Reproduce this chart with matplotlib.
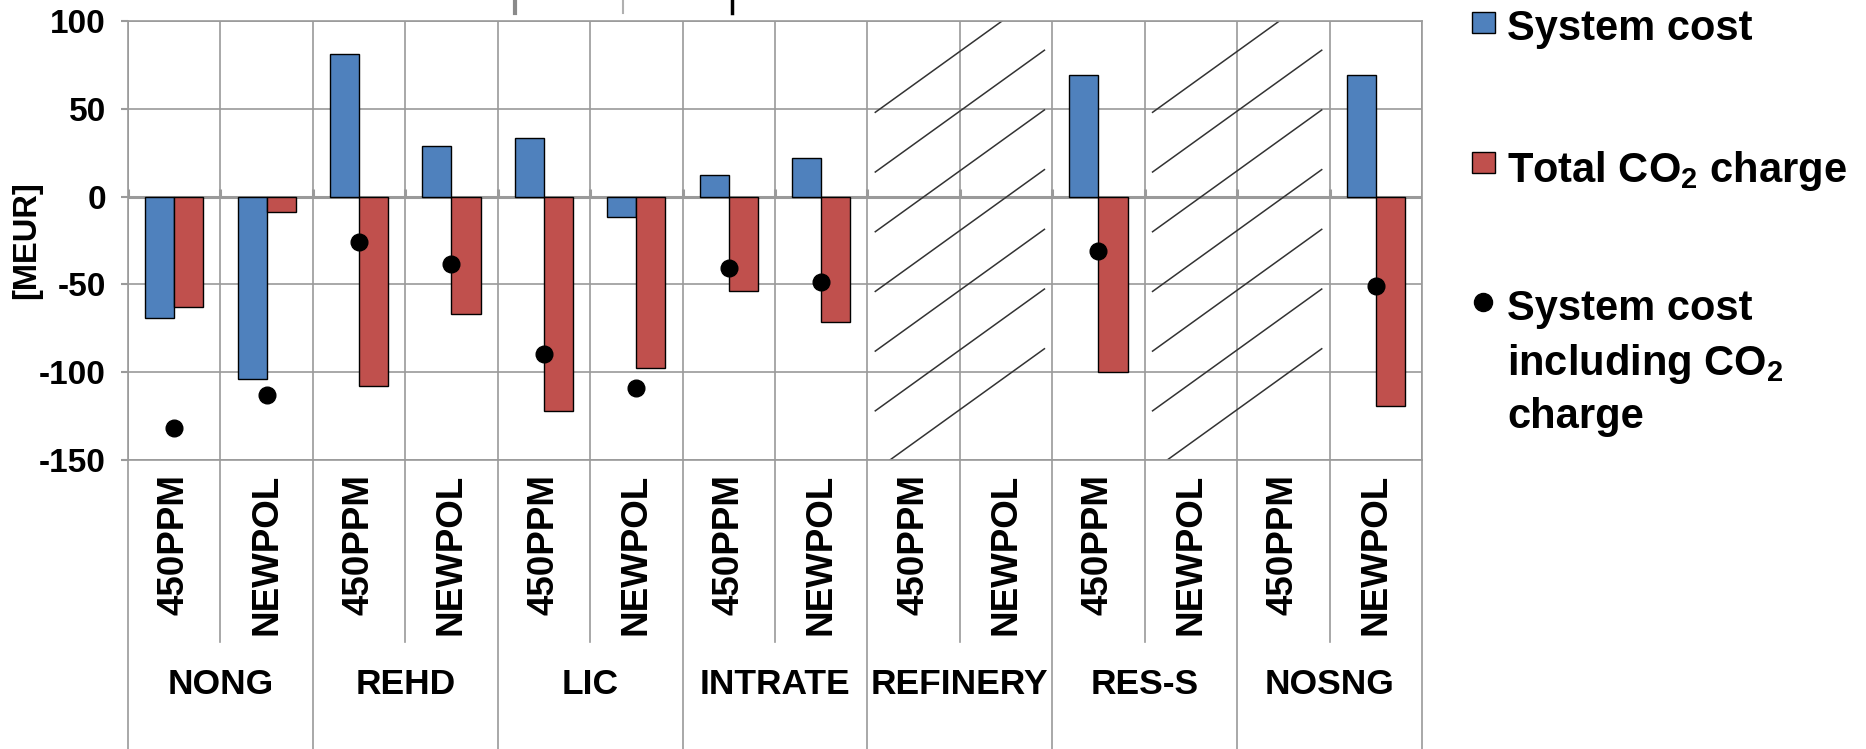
import numpy as np
import matplotlib
matplotlib.use('Agg')
import matplotlib.pyplot as plt
from matplotlib.lines import Line2D
from matplotlib.patches import Rectangle
from matplotlib.transforms import blended_transform_factory

# policy groups, each run under two scenarios
groups = ['NONG', 'REHD', 'LIC', 'INTRATE', 'REFINERY', 'RES-S', 'NOSNG']
scenarios = ['450PPM', 'NEWPOL']

nan = np.nan
# MEUR per column (group x scenario); nan = no result for that case
system_cost = [-69.1, -103.8, 81.3, 28.6, 33.3, -11.6, 12.4, 22.1,
               nan, nan, 69.0, nan, nan, 69.0]
co2_charge = [-62.8, -8.8, -107.6, -66.6, -122.1, -97.7, -53.6, -71.6,
              nan, nan, -100.0, nan, nan, -119.5]
cost_incl_co2 = [-131.9, -113.2, -25.9, -38.5, -89.5, -109.2, -40.8, -48.5,
                 nan, nan, -30.9, nan, nan, -50.8]

y_ticks = [100, 50, 0, -50, -100, -150]
legend_labels = ['System cost', 'Total CO$_2$ charge',
                 'System cost\nincluding CO$_2$\ncharge']

BLUE = '#4F81BD'
RED = '#C0504D'
GRID = '#9a9a9a'

plt.rcParams['font.family'] = 'Liberation Sans'
plt.rcParams['font.weight'] = 'bold'
plt.rcParams['axes.unicode_minus'] = False
plt.rcParams['mathtext.fontset'] = 'custom'
plt.rcParams['mathtext.rm'] = 'Liberation Sans:bold'
plt.rcParams['mathtext.it'] = 'Liberation Sans:bold'
plt.rcParams['mathtext.bf'] = 'Liberation Sans:bold'
plt.rcParams['mathtext.default'] = 'rm'

W, H = 1866, 749
fig = plt.figure(figsize=(W / 100, H / 100), dpi=100)
ax = fig.add_axes([128 / W, 1 - 460 / H, (1422 - 128) / W, (460 - 21) / H])

n = len(system_cost)
x = np.arange(n)
bw = 0.315

ax.bar(x - bw / 2, system_cost, bw, color=BLUE, edgecolor='black', linewidth=1.0, zorder=3)
ax.bar(x + bw / 2, co2_charge, bw, color=RED, edgecolor='black', linewidth=1.0, zorder=3)
ax.plot(x, cost_incl_co2, 'o', color='black', markersize=12, zorder=4)

ax.set_xlim(-0.5, n - 0.5)
ax.set_ylim(-150, 100)
ax.set_yticks(y_ticks)
ax.set_xticks([])
bounds = np.arange(-0.5, n)
ax.set_xticks(bounds, minor=True)
ax.grid(True, which='minor', axis='x', color=GRID, lw=1.2)
ax.grid(True, which='major', axis='y', color=GRID, lw=1.2)
ax.set_axisbelow(True)
ax.tick_params(axis='x', which='both', length=0, labelbottom=False)
ax.tick_params(axis='y', length=5, width=1.5, color=GRID, pad=11, labelsize=24)
for s in ax.spines.values():
    s.set_color(GRID)
    s.set_linewidth(1.2)

# category axis at zero with its small tick marks
ax.axhline(0, color=GRID, lw=2.2, zorder=2)
ax.vlines(bounds, 0, 4.5, color=GRID, lw=2.2, zorder=2)

# diagonal strokes over the cases without results
empty = np.isnan(system_cost) & np.isnan(co2_charge)
runs = []
i = 0
while i < n:
    if empty[i]:
        j = i
        while j + 1 < n and empty[j + 1]:
            j += 1
        runs.append((i - 0.5, j + 0.5))
        i = j + 1
    else:
        i += 1

slope = 37.9   # y units per column
inset = 0.085
for x0, x1 in runs:
    xl, xr = x0 + inset, x1 - inset
    for c in np.arange(48, -160, -34):
        xa = max(xl, xl + (-150 - c) / slope)
        xb = min(xr, xl + (100 - c) / slope)
        if xb > xa:
            ax.plot([xa, xb], [c + slope * (xa - xl), c + slope * (xb - xl)],
                    color='#333333', lw=1.1, zorder=2.5)

# two-level category labels under the plot
trans = blended_transform_factory(ax.transData, fig.transFigure)
axis_bottom = 1 - 460 / H
columns = [(g, s) for g in groups for s in scenarios]
for i, (g, s) in enumerate(columns):
    ax.text(i, 1 - 474 / H, s, transform=trans, rotation=90,
            ha='center', va='top', fontsize=26.5)
for k, g in enumerate(groups):
    ax.text(2 * k + 0.5, 1 - 685 / H, g, transform=trans,
            ha='center', va='center', fontsize=25.5)
for k, b in enumerate(bounds):
    y_end = 0 if k % 2 == 0 else 1 - 642 / H
    ax.add_line(Line2D([b, b], [axis_bottom, y_end], transform=trans,
                       color=GRID, lw=1.2, clip_on=False))

fig.text(27 / W, 1 - 240 / H, '[MEUR]', rotation=90, ha='center', va='center', fontsize=23.5)

# legend on the right
handle_kinds = [('square', BLUE), ('square', RED), ('dot', 'black')]
handle_y = [22.5, 162.5, 302]
text_top = [9, 149, 289]
for label, (kind, color), yc, yt in zip(legend_labels, handle_kinds, handle_y, text_top):
    if kind == 'square':
        fig.add_artist(Rectangle(((1483.5 - 11.5) / W, 1 - (yc + 10.5) / H), 23 / W, 21 / H,
                                 transform=fig.transFigure, facecolor=color,
                                 edgecolor='black', lw=1.0))
    else:
        fig.add_artist(Line2D([1483 / W], [1 - yc / H], marker='o', color='black',
                              markersize=13, transform=fig.transFigure))
    fig.text(1507 / W, 1 - yt / H, label, fontsize=30, ha='left', va='top', linespacing=1.38)

# cut-off marks along the top edge
for xpx, col, lw in [(515, '#8a8a8a', 3), (623, '#b0b0b0', 1.5), (732, 'black', 2.5)]:
    fig.add_artist(Line2D([xpx / W] * 2, [1, 1 - 13 / H], transform=fig.transFigure,
                          color=col, lw=lw))

fig.savefig('out.png', dpi=100)
